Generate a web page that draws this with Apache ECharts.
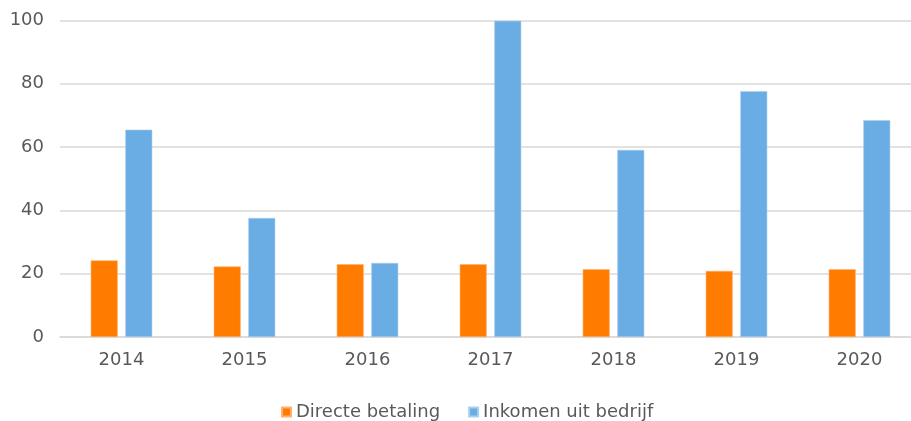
<!DOCTYPE html>
<html>
<head>
<meta charset="utf-8">
<script src="https://cdn.jsdelivr.net/npm/echarts@6/dist/echarts.min.js"></script>
<style>
html,body{margin:0;padding:0;background:#fff;overflow:hidden;width:911px;height:421px;}
#chart{width:922px;height:421px;}
</style>
</head>
<body>
<div id="chart"></div>
<script>
const categories = ['2014','2015','2016','2017','2018','2019','2020'];
const directeBetaling = [24.2, 22.3, 23.0, 23.0, 21.4, 20.9, 21.4];
const inkomenUitBedrijf = [65.5, 37.6, 23.4, 99.9, 59.1, 77.7, 68.5];
const seriesNames = ['Directe betaling', 'Inkomen uit bedrijf'];

const font = 'Verdana, "DejaVu Sans", sans-serif';
const chart = echarts.init(document.getElementById('chart'), null, {renderer:'canvas'});
chart.setOption({
  animation: false,
  backgroundColor: '#ffffff',
  grid: {left: 60, right: 1, top: 20.5, bottom: 84, containLabel: false},
  legend: {
    left: 276, top: 398,
    padding: 5,
    itemWidth: 9, itemHeight: 9, itemGap: 28,
    icon: 'rect',
    textStyle: {fontFamily: font, fontSize: 18, color: '#595959'},
    data: seriesNames
  },
  xAxis: {
    type: 'category',
    data: categories,
    axisTick: {show: false},
    axisLine: {lineStyle: {color: '#d9d9d9', width: 1.5}},
    axisLabel: {fontFamily: font, fontSize: 18, color: '#595959', margin: 14}
  },
  yAxis: {
    type: 'value',
    min: 0, max: 100, interval: 20,
    axisLine: {show: false},
    axisTick: {show: false},
    axisLabel: {fontFamily: font, fontSize: 18, color: '#595959', margin: 16},
    splitLine: {lineStyle: {color: '#d9d9d9', width: 1.5}}
  },
  series: [
    {
      name: seriesNames[0], type: 'bar', data: directeBetaling,
      barWidth: 27, barGap: '28%',
      itemStyle: {color: '#ff7c00', borderColor: '#ffb070', borderWidth: 0.6}
    },
    {
      name: seriesNames[1], type: 'bar', data: inkomenUitBedrijf,
      barWidth: 27,
      itemStyle: {color: '#6aade4', borderColor: '#a9cff0', borderWidth: 0.6}
    }
  ]
});
</script>
</body>
</html>
